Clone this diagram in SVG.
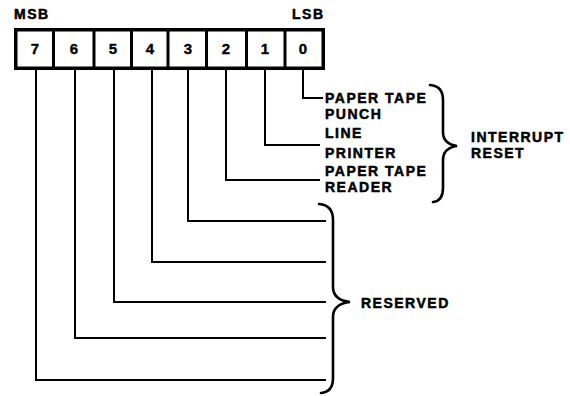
<svg xmlns="http://www.w3.org/2000/svg" width="570" height="396" viewBox="0 0 570 396">
<style>
  text { font-family: "Liberation Sans", Arial, sans-serif; font-weight: bold; font-size: 14px; fill: #000; stroke: #000; stroke-width: 0.5px; letter-spacing: 1.5px; }
  .digit { font-size: 15px; text-anchor: middle; letter-spacing: 0; stroke-width: 0.4px; }
  .wire { fill: none; stroke: #000; stroke-width: 2; }
  .brace { fill: none; stroke: #000; stroke-width: 2.6; stroke-linecap: round; }
  .box { fill: #fff; stroke: #000; stroke-width: 3.5; }
  .div { stroke: #000; stroke-width: 3; }
</style>
<rect width="570" height="396" fill="#fff"/>
<g id="header">
  <text x="14" y="19">MSB</text>
  <text x="292" y="19">LSB</text>
</g>
<g id="register">
  <rect class="box" x="15.75" y="29.75" width="307.5" height="38.5"/>
  <line class="div" x1="53.5" y1="29" x2="53.5" y2="69"/>
  <line class="div" x1="94" y1="29" x2="94" y2="69"/>
  <line class="div" x1="131.5" y1="29" x2="131.5" y2="69"/>
  <line class="div" x1="168" y1="29" x2="168" y2="69"/>
  <line class="div" x1="206.5" y1="29" x2="206.5" y2="69"/>
  <line class="div" x1="246.5" y1="29" x2="246.5" y2="69"/>
  <line class="div" x1="285" y1="29" x2="285" y2="69"/>
  <text class="digit" x="35" y="54">7</text>
  <text class="digit" x="74" y="54">6</text>
  <text class="digit" x="113" y="54">5</text>
  <text class="digit" x="150" y="54">4</text>
  <text class="digit" x="188" y="54">3</text>
  <text class="digit" x="226" y="54">2</text>
  <text class="digit" x="265" y="54">1</text>
  <text class="digit" x="303" y="54">0</text>
</g>
<g id="connectors">
  <path class="wire" d="M303 70 V98 H323"/>
  <path class="wire" d="M265 70 V145 H320"/>
  <path class="wire" d="M226 70 V180 H320"/>
  <path class="wire" d="M188 70 V221 H326"/>
  <path class="wire" d="M152 70 V262 H326"/>
  <path class="wire" d="M114 70 V302 H326"/>
  <path class="wire" d="M75 70 V338 H326"/>
  <path class="wire" d="M36 70 V380 H326"/>
</g>
<g id="label-punch">
  <text x="325" y="103">PAPER TAPE</text>
  <text x="325" y="119">PUNCH</text>
</g>
<g id="label-printer">
  <text x="325" y="138">LINE</text>
  <text x="325" y="158">PRINTER</text>
</g>
<g id="label-reader">
  <text x="325" y="176">PAPER TAPE</text>
  <text x="325" y="192">READER</text>
</g>
<g id="interrupt-reset">
  <path class="brace" d="M430 85 Q443 86 443 100 V132 Q443 144 457 146 Q443 148 443 160 V188 Q443 201 433 202"/>
  <text x="471" y="142">INTERRUPT</text>
  <text x="471" y="158">RESET</text>
</g>
<g id="reserved">
  <path class="brace" d="M319 204 Q333 205 333 220 V287 Q333 300 350 302 Q333 304 333 317 V378 Q333 392 321 393"/>
  <text x="361" y="308">RESERVED</text>
</g>
</svg>
